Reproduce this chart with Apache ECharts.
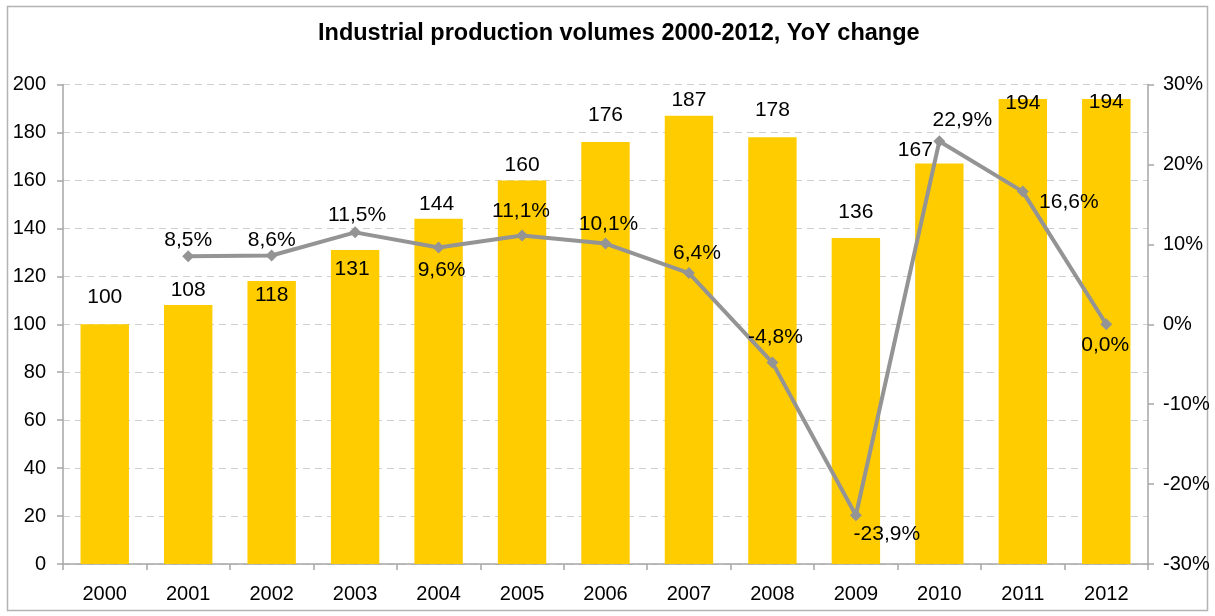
<!DOCTYPE html>
<html>
<head>
<meta charset="utf-8">
<script src="https://cdn.jsdelivr.net/npm/echarts@6/dist/echarts.min.js"></script>
<style>
html,body{margin:0;padding:0;background:#fff;}
#chart{width:1215px;height:616px;}
</style>
</head>
<body>
<div id="chart"></div>
<script>
// ---- data ----
const titleText = 'Industrial production volumes 2000-2012, YoY change';
const years = ['2000','2001','2002','2003','2004','2005','2006','2007','2008','2009','2010','2011','2012'];
const volumes = [100, 108, 118, 131, 144, 160, 176, 187, 178, 136, 167, 194, 194];
const yoyChange = [null, 8.5, 8.6, 11.5, 9.6, 11.1, 10.1, 6.4, -4.8, -23.9, 22.9, 16.6, 0.0];

// ---- label placement (styling, in px) ----
const barLabelShift = [[0,-27],[0,-15],[0,14],[-3,19],[-2,-15],[0,-15],[0,-27],[0,-15],[0,-27],[0,-26],[-24,-13],[0,4],[0,3]];
const lineLabelShift = [[0,0],[0,-16],[0,-15],[2,-17],[3,23],[-1,-24],[3,-19],[8,-20],[3,-25],[31,19],[23,-21],[46,11],[-1,21]];

const FONT = '"Liberation Sans", Arial, Helvetica, sans-serif';

const barData = volumes.map((v, i) => ({
  value: v,
  label: {
    show: true,
    position: ['50%', 0],
    offset: barLabelShift[i],
    align: 'center',
    verticalAlign: 'middle'
  }
}));
const lineData = yoyChange.map((v, i) => ({
  value: v,
  label: {
    show: v !== null,
    position: 'inside',
    offset: lineLabelShift[i],
    align: 'center',
    verticalAlign: 'middle'
  }
}));

const chart = echarts.init(document.getElementById('chart'));
chart.setOption({
  backgroundColor: '#fff',
  animation: false,
  textStyle: { fontFamily: FONT },
  title: {
    text: titleText,
    left: 313,
    top: 17,
    textStyle: { fontFamily: FONT, fontSize: 23.5, fontWeight: 'bold', color: '#000' }
  },
  graphic: [{
    type: 'rect',
    shape: { x: 7.5, y: 6.5, width: 1200, height: 604 },
    style: { fill: 'none', stroke: '#b3b3b3', lineWidth: 1.5 },
    silent: true, z: -1
  }],
  grid: { left: 63, right: 67, top: 84.5, bottom: 52, containLabel: false },
  xAxis: {
    type: 'category',
    data: years,
    boundaryGap: true,
    axisLine: { lineStyle: { color: '#a6a6a6', width: 1.5 } },
    axisTick: { show: true, length: 6, alignWithLabel: false, lineStyle: { color: '#a6a6a6', width: 1.5 } },
    axisLabel: { color: '#000', fontSize: 20, fontFamily: FONT, margin: 20, interval: 0 }
  },
  yAxis: [{
    type: 'value',
    min: 0, max: 200, interval: 20,
    axisLine: { show: true, lineStyle: { color: '#a6a6a6', width: 1.5 } },
    axisTick: { show: true, length: 6, lineStyle: { color: '#a6a6a6', width: 1.5 } },
    axisLabel: { color: '#000', fontSize: 20, fontFamily: FONT, margin: 17 },
    splitLine: { show: true, lineStyle: { color: '#d0d0d0', width: 1.2, type: [7, 5] } }
  }, {
    type: 'value',
    min: -30, max: 30, interval: 10,
    position: 'right',
    axisLine: { show: true, lineStyle: { color: '#a6a6a6', width: 1.5 } },
    axisTick: { show: true, length: 6, lineStyle: { color: '#a6a6a6', width: 1.5 } },
    axisLabel: { color: '#000', fontSize: 20, fontFamily: FONT, margin: 15, formatter: v => v + '%' },
    splitLine: { show: false }
  }],
  series: [{
    name: 'Volume',
    type: 'bar',
    data: barData,
    barWidth: '58%',
    itemStyle: { color: '#FFCC00' },
    label: { color: '#000', fontSize: 21, fontFamily: FONT },
    z: 2
  }, {
    name: 'YoY',
    type: 'line',
    yAxisIndex: 1,
    data: lineData,
    connectNulls: false,
    symbol: 'diamond',
    symbolSize: 12,
    lineStyle: { color: '#949494', width: 4 },
    itemStyle: { color: '#949494' },
    label: {
      color: '#000', fontSize: 21, fontFamily: FONT,
      formatter: p => p.value === null ? '' : p.value.toFixed(1).replace('.', ',') + '%'
    },
    z: 3
  }]
});
</script>
</body>
</html>
